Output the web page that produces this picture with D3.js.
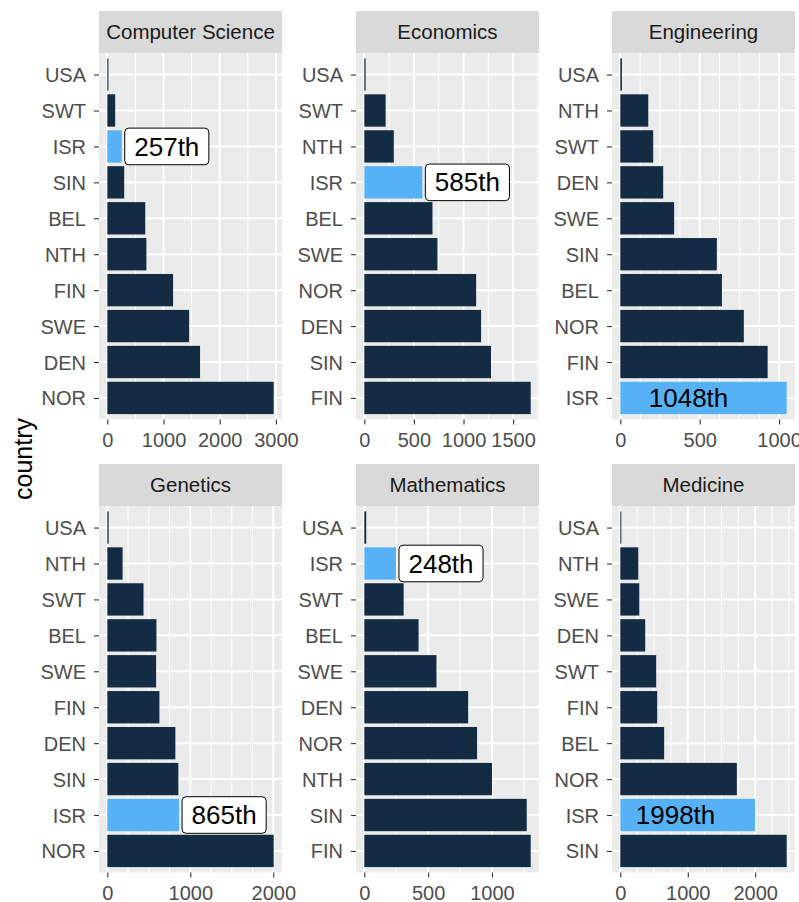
<!DOCTYPE html>
<html>
<head>
<meta charset="utf-8">
<script src="https://cdn.jsdelivr.net/npm/d3@7"></script>
<style>
  body { margin: 0; background: #fff; }
  svg { font-family: "Liberation Sans", Arial, sans-serif; }
</style>
</head>
<body>
<svg width="799" height="902"></svg>
<script>
// facet titles
var subjects = ["Computer Science", "Economics", "Engineering", "Genetics", "Mathematics", "Medicine"];

// countries per facet, top to bottom
var csCountries   = ["USA", "SWT", "ISR", "SIN", "BEL", "NTH", "FIN", "SWE", "DEN", "NOR"];
var csValues      = [20, 140, 257, 300, 675, 695, 1170, 1455, 1650, 2960];
var econCountries = ["USA", "SWT", "NTH", "ISR", "BEL", "SWE", "NOR", "DEN", "SIN", "FIN"];
var econValues    = [13, 215, 297, 585, 687, 737, 1127, 1177, 1277, 1677];
var engCountries  = ["USA", "NTH", "SWT", "DEN", "SWE", "SIN", "BEL", "NOR", "FIN", "ISR"];
var engValues     = [10, 176, 207, 270, 339, 608, 640, 778, 928, 1048];
var genCountries  = ["USA", "NTH", "SWT", "BEL", "SWE", "FIN", "DEN", "SIN", "ISR", "NOR"];
var genValues     = [16, 184, 436, 592, 588, 628, 820, 856, 865, 2005];
var mathCountries = ["USA", "ISR", "SWT", "BEL", "SWE", "DEN", "NOR", "NTH", "SIN", "FIN"];
var mathValues    = [15, 248, 308, 425, 565, 813, 883, 1000, 1272, 1303];
var medCountries  = ["USA", "NTH", "SWE", "DEN", "SWT", "FIN", "BEL", "NOR", "ISR", "SIN"];
var medValues     = [15, 266, 281, 369, 532, 547, 650, 1728, 1998, 2467];

var countries = [csCountries, econCountries, engCountries, genCountries, mathCountries, medCountries];
var values = [csValues, econValues, engValues, genValues, mathValues, medValues];

// x tick labels and minor grid step per facet
var majorTicks = [[0, 1000, 2000, 3000], [0, 500, 1000, 1500], [0, 500, 1000],
                  [0, 1000, 2000], [0, 500, 1000], [0, 1000, 2000]];
var minorSteps = [500, 250, 125, 250, 250, 250];

var highlight = "ISR";

var svg = d3.select("svg"),
    colX = [99, 356, 612],
    rowY = [11, 464],
    panelW = 183,
    stripH = 42,
    panelH = 366.5;

var dark = "#132B43", light = "#56B1F7";

subjects.forEach(function(subject, i) {
    var left = colX[i % 3],
        top = rowY[Math.floor(i / 3)] + stripH,
        cats = countries[i],
        vals = values[i],
        max = d3.max(vals);

    var x = d3.scaleLinear()
        .domain([-0.05 * max, 1.05 * max])
        .range([left, left + panelW]);

    var y = d3.scalePoint()
        .domain(cats)
        .range([top, top + panelH])
        .padding(0.6);

    var g = svg.append("g");

    // panel background
    g.append("rect")
        .attr("x", left).attr("y", top)
        .attr("width", panelW).attr("height", panelH)
        .attr("fill", "#EBEBEB");

    // minor grid
    var minors = d3.range(0, x.domain()[1], minorSteps[i])
        .filter(function(v) { return majorTicks[i].indexOf(v) < 0; });
    g.selectAll(".minor")
        .data(minors)
        .enter().append("line")
        .attr("x1", function(d) { return x(d); })
        .attr("x2", function(d) { return x(d); })
        .attr("y1", top).attr("y2", top + panelH)
        .attr("stroke", "#fff").attr("stroke-width", 1);

    // major grid
    g.selectAll(".major")
        .data(majorTicks[i])
        .enter().append("line")
        .attr("x1", function(d) { return x(d); })
        .attr("x2", function(d) { return x(d); })
        .attr("y1", top).attr("y2", top + panelH)
        .attr("stroke", "#fff").attr("stroke-width", 2);

    g.selectAll(".hgrid")
        .data(cats)
        .enter().append("line")
        .attr("x1", left).attr("x2", left + panelW)
        .attr("y1", function(d) { return y(d); })
        .attr("y2", function(d) { return y(d); })
        .attr("stroke", "#fff").attr("stroke-width", 2);

    // bars
    var bh = y.step() * 0.9;
    g.selectAll(".bar")
        .data(cats)
        .enter().append("rect")
        .attr("x", x(0))
        .attr("y", function(d) { return y(d) - bh / 2; })
        .attr("width", function(d, j) { return x(vals[j]) - x(0); })
        .attr("height", bh)
        .attr("fill", function(d) { return d === highlight ? light : dark; });

    // strip
    var stripTop = rowY[Math.floor(i / 3)];
    g.append("rect")
        .attr("x", left).attr("y", stripTop)
        .attr("width", panelW).attr("height", stripH)
        .attr("fill", "#D9D9D9");
    g.append("text")
        .attr("x", left + panelW / 2)
        .attr("y", stripTop + stripH / 2)
        .attr("dy", "0.35em")
        .attr("text-anchor", "middle")
        .attr("font-size", 20.5)
        .attr("fill", "#1A1A1A")
        .text(subject);

    // axes
    var xa = g.append("g")
        .attr("transform", "translate(0," + (top + panelH) + ")")
        .call(d3.axisBottom(x).tickValues(majorTicks[i]).tickSize(5).tickPadding(8).tickFormat(d3.format("d")));
    var ya = g.append("g")
        .attr("transform", "translate(" + left + ",0)")
        .call(d3.axisLeft(y).tickSize(5).tickPadding(8));
    [xa, ya].forEach(function(a) {
        a.select(".domain").remove();
        a.selectAll("line").attr("stroke", "#333333").attr("stroke-width", 1.1);
        a.selectAll("text").attr("font-size", 20).attr("fill", "#4D4D4D").attr("font-family", null);
    });
    ya.selectAll("text").attr("dy", "0.35em");

    // ISR rank label
    var hv = vals[cats.indexOf(highlight)],
        hy = y(highlight),
        label = hv + "th";
    if (hv / max > 0.6) {
        g.append("text")
            .attr("x", x(hv * 0.41))
            .attr("y", hy)
            .attr("dy", "0.35em")
            .attr("text-anchor", "middle")
            .attr("font-size", 26)
            .attr("fill", "#000")
            .text(label);
    } else {
        var lg = g.append("g");
        var box = lg.append("rect");
        var t = lg.append("text")
            .attr("x", x(hv) + 3 + 9.5)
            .attr("y", hy)
            .attr("dy", "0.35em")
            .attr("font-size", 26)
            .attr("fill", "#000")
            .text(label);
        var tw = t.node().getComputedTextLength();
        box.attr("x", x(hv) + 3)
            .attr("y", hy - 18.3)
            .attr("width", tw + 19)
            .attr("height", 36.6)
            .attr("rx", 4)
            .attr("fill", "#fff")
            .attr("stroke", "#000")
            .attr("stroke-width", 1);
    }
});

// y axis title
svg.append("text")
    .attr("transform", "translate(32,459) rotate(-90)")
    .attr("text-anchor", "middle")
    .attr("font-size", 25)
    .attr("fill", "#000")
    .text("country");
</script>
</body>
</html>
